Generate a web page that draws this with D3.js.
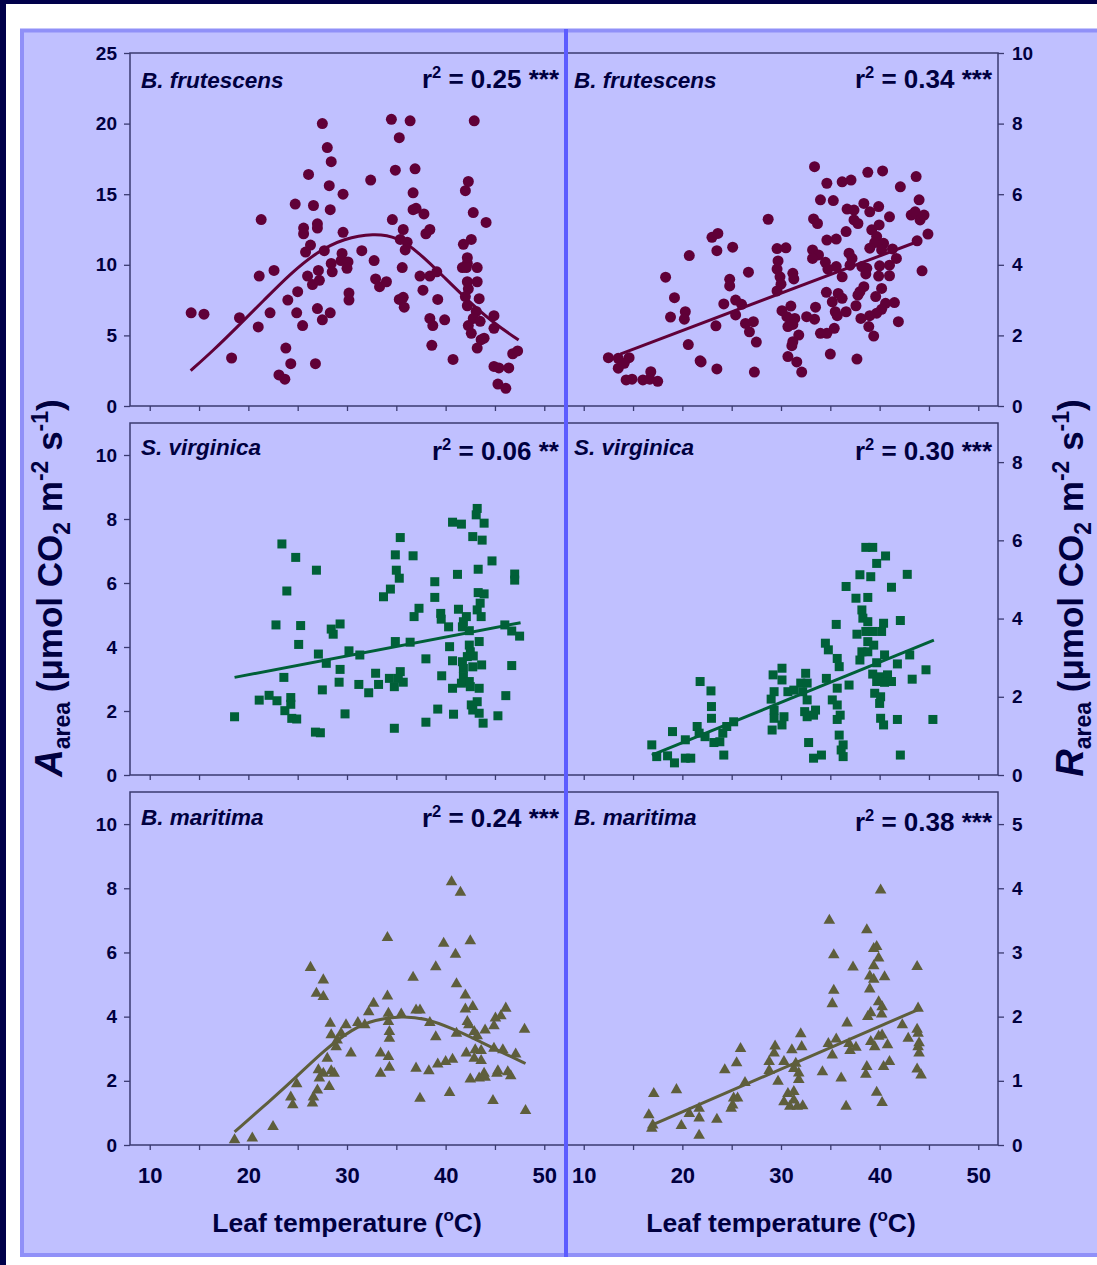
<!DOCTYPE html>
<html>
<head>
<meta charset="utf-8">
<script src="https://cdn.jsdelivr.net/npm/d3@7/dist/d3.min.js"></script>
<style>
body { margin: 0; background: #fff; }
text { font-family: Arial, "Liberation Sans", sans-serif; font-weight: bold; fill: #000040; }
</style>
</head>
<body>
<script>
// leaf temperature (C) vs rate, one array per species and flux
var bfrutA = [[14.2,6.6],[15.5,6.5],[18.3,3.4],[19.1,6.25],[21.0,5.6],[21.3,13.2],[21.1,9.2],[22.6,9.6],[22.2,6.6],[23.8,4.1],[24.3,3.0],[23.1,2.2],[23.7,1.9],[24.0,7.5],[24.75,14.3],[25.0,8.1],[24.9,6.6],[25.5,5.7],[25.6,12.6],[25.6,12.2],[26.1,16.4],[26.3,11.4],[25.8,10.9],[26.0,9.2],[26.5,8.6],[26.6,14.2],[27.0,12.9],[27.0,12.6],[27.1,9.6],[27.2,8.9],[27.0,6.9],[27.5,6.1],[26.8,3.0],[27.5,20.0],[28.0,18.3],[28.4,17.3],[28.2,15.6],[28.3,13.9],[29.6,15.0],[27.7,11.0],[28.4,10.1],[28.5,9.5],[28.3,6.6],[29.6,12.3],[29.5,10.8],[29.4,10.3],[30.1,10.2],[30.0,9.75],[30.2,8.0],[30.2,7.5],[31.5,11.0],[32.4,16.0],[32.75,10.3],[32.9,9.0],[33.3,8.45],[34.0,8.8],[34.5,20.3],[35.3,19.0],[36.4,20.2],[34.9,16.7],[36.9,16.8],[34.6,13.2],[36.7,15.1],[36.7,13.9],[37.0,14.0],[37.8,13.6],[35.7,12.5],[35.4,11.8],[36.1,11.6],[35.9,11.05],[35.6,9.8],[35.3,7.55],[35.7,7.7],[35.8,7.0],[37.4,9.2],[37.7,8.2],[38.4,9.2],[39.1,9.5],[38.0,12.2],[38.4,12.5],[39.2,7.55],[38.4,6.2],[38.7,5.7],[39.9,6.1],[38.6,4.3],[40.75,3.3],[42.9,20.2],[42.3,15.9],[42.0,15.25],[42.8,13.7],[44.1,13.0],[42.6,11.8],[41.8,11.45],[42.2,10.5],[42.2,10.1],[41.7,9.8],[42.1,9.8],[43.2,9.8],[42.2,8.8],[43.2,8.8],[42.3,8.3],[42.0,7.75],[43.4,7.6],[42.2,7.1],[43.1,6.7],[42.8,6.2],[43.5,6.0],[42.3,5.7],[42.6,5.15],[43.9,4.8],[43.6,4.7],[43.2,4.1],[44.9,6.4],[44.9,5.5],[44.9,2.8],[45.4,2.7],[46.4,2.7],[45.3,1.55],[46.1,1.25],[46.8,3.7],[47.3,3.9]];

var bfrutR = [[12.5,1.37],[13.5,1.35],[14.6,1.37],[13.5,1.07],[14.1,1.21],[14.3,0.74],[14.9,0.76],[16.0,0.74],[16.8,0.97],[16.7,0.76],[17.5,0.70],[18.3,3.65],[19.2,3.07],[18.8,2.52],[20.3,2.67],[20.2,2.46],[20.6,1.74],[20.7,4.26],[21.8,1.28],[21.9,1.25],[23.0,4.78],[23.6,4.89],[23.5,4.4],[23.4,2.27],[23.5,1.05],[24.2,2.89],[25.1,4.5],[24.8,3.59],[24.8,3.4],[25.4,3.0],[26.0,2.88],[25.4,2.58],[26.4,2.34],[27.2,2.39],[26.8,2.1],[27.5,1.81],[26.7,3.79],[27.3,0.96],[28.7,5.29],[29.6,4.46],[30.5,4.48],[29.7,4.11],[29.6,3.88],[29.9,3.66],[31.2,3.76],[31.3,3.6],[30.0,3.45],[29.6,3.26],[30.1,2.7],[31.0,2.83],[30.6,2.53],[31.4,2.48],[31.2,2.31],[30.7,2.25],[31.8,2.01],[31.2,1.82],[31.1,1.71],[30.7,1.4],[31.6,1.25],[32.1,0.96],[32.6,2.53],[33.4,2.46],[33.5,2.8],[33.4,6.78],[33.3,5.3],[33.7,5.17],[34.0,5.84],[34.65,6.31],[35.3,5.82],[33.2,4.42],[33.8,4.28],[33.2,4.18],[34.65,4.7],[35.6,4.73],[34.5,4.07],[34.75,3.88],[35.6,3.95],[36.2,3.66],[34.6,3.22],[35.2,2.95],[35.8,3.19],[36.2,3.05],[35.5,2.67],[35.7,2.56],[36.6,2.67],[35.4,2.2],[34.65,2.06],[34.0,2.06],[35.0,1.47],[36.2,6.35],[37.1,6.4],[36.6,4.94],[36.7,5.58],[37.4,5.55],[37.4,5.27],[37.8,5.17],[36.9,4.33],[37.2,4.18],[37.0,3.99],[38.4,5.74],[39.0,5.5],[39.9,5.65],[38.8,6.62],[40.3,6.66],[39.2,4.99],[39.95,5.13],[39.7,4.8],[39.5,4.63],[40.4,4.61],[39.0,4.47],[40.2,4.42],[41.3,4.45],[41.0,5.36],[42.1,6.21],[43.7,6.5],[44.0,5.84],[43.2,5.41],[43.6,5.5],[44.1,5.27],[44.5,5.41],[44.9,4.87],[43.8,4.68],[41.7,4.18],[41.0,3.99],[41.0,3.69],[40.0,3.97],[39.9,3.68],[38.7,3.9],[38.2,3.95],[38.6,3.74],[44.3,3.83],[40.2,3.33],[38.4,3.38],[38.0,3.24],[37.8,3.14],[39.6,3.1],[40.6,2.91],[37.6,2.84],[41.5,2.93],[40.2,2.74],[39.7,2.63],[39.0,2.56],[38.1,2.48],[38.9,2.25],[39.4,1.98],[41.9,2.39],[37.7,1.33]];

var svirgA = [[18.6,1.82],[23.4,7.22],[24.8,6.8],[26.9,6.4],[23.9,5.75],[22.8,4.69],[25.3,4.67],[25.1,4.08],[23.6,3.05],[22.1,2.49],[21.1,2.34],[22.9,2.32],[24.3,2.42],[24.3,2.21],[23.7,2.01],[24.4,1.77],[24.9,1.75],[26.8,1.34],[27.3,1.32],[27.1,3.78],[27.9,3.49],[27.5,2.66],[28.4,4.56],[28.6,4.4],[29.3,4.72],[29.3,3.3],[29.2,2.9],[30.2,3.88],[31.3,3.75],[31.2,2.83],[32.2,2.57],[29.8,1.91],[32.9,3.18],[33.2,2.83],[34.8,1.46],[33.7,5.57],[34.4,5.81],[35.0,6.4],[35.3,6.15],[34.9,6.88],[35.4,7.42],[36.7,6.85],[34.9,4.17],[36.4,4.15],[34.3,3.02],[34.8,2.76],[35.4,3.23],[35.7,2.9],[35.2,3.02],[36.8,4.95],[37.3,5.21],[38.9,6.04],[38.9,5.55],[38.0,3.63],[39.2,2.06],[38.0,1.65],[39.5,5.05],[40.3,4.63],[40.4,4.01],[39.6,3.1],[40.7,3.57],[40.7,2.71],[40.8,1.9],[41.2,6.27],[40.7,7.9],[41.6,7.84],[43.2,8.33],[43.1,8.13],[43.9,7.87],[42.75,7.45],[43.7,7.34],[44.7,6.69],[43.3,6.43],[41.3,5.18],[42.1,4.95],[43.2,5.16],[43.6,4.95],[43.3,5.7],[43.9,5.66],[43.5,5.37],[41.7,4.63],[42.4,4.51],[43.4,4.17],[42.4,4.06],[42.5,3.85],[42.2,3.7],[42.8,3.72],[41.7,3.54],[41.8,3.33],[42.75,3.38],[43.65,3.44],[41.8,3.07],[42.4,2.92],[41.6,2.87],[42.5,2.76],[43.4,2.71],[42.6,2.19],[43.2,2.29],[42.75,2.03],[43.4,1.93],[43.8,1.62],[45.3,1.85],[46.1,2.48],[46.7,3.42],[46.0,4.69],[46.7,4.5],[47.5,4.34],[47.0,6.28],[47.0,6.09],[39.55,4.87],[41.8,4.79]];

var svirgR = [[16.9,0.77],[17.4,0.47],[18.5,0.49],[19.2,0.31],[20.3,0.43],[20.85,0.43],[19.0,1.11],[20.3,0.9],[21.5,1.24],[21.7,1.07],[22.3,0.98],[23.2,0.83],[23.8,0.85],[21.8,2.39],[22.9,2.15],[22.95,1.75],[22.95,1.45],[24.1,1.07],[24.5,1.24],[25.2,1.36],[24.2,0.51],[29.2,2.56],[30.1,2.73],[30.1,2.43],[29.3,2.13],[29.0,1.94],[29.3,1.66],[29.3,1.45],[29.1,1.15],[30.3,1.49],[30.1,1.28],[30.7,2.13],[31.3,2.17],[32.0,2.35],[32.5,2.6],[32.65,2.35],[32.2,2.13],[32.65,1.92],[32.4,1.62],[32.65,1.49],[33.5,1.66],[33.3,1.53],[32.8,0.83],[33.3,0.43],[34.1,0.51],[34.5,3.37],[34.8,3.2],[34.6,2.47],[35.6,3.85],[35.7,2.98],[35.9,2.77],[35.7,2.22],[35.2,1.92],[35.7,1.79],[36.0,1.53],[35.7,1.42],[35.9,1.02],[36.3,0.77],[36.1,0.64],[36.3,0.47],[36.9,2.3],[36.6,4.82],[37.6,4.52],[38.0,5.12],[39.1,5.07],[38.8,4.54],[38.6,5.82],[39.3,5.82],[40.6,5.6],[39.7,5.41],[41.2,4.8],[42.8,5.13],[38.2,4.22],[38.3,4.01],[38.8,3.92],[37.7,3.6],[38.6,3.67],[39.3,3.67],[40.4,3.88],[40.2,3.67],[42.1,3.95],[38.8,3.41],[39.4,3.32],[38.2,3.15],[38.8,3.15],[38.0,2.94],[39.7,2.87],[40.5,3.07],[41.8,2.84],[43.05,3.07],[39.3,2.58],[40.0,2.51],[40.8,2.56],[39.7,2.39],[40.5,2.37],[41.2,2.39],[39.5,2.09],[40.1,2.0],[40.0,1.83],[43.3,2.45],[44.7,2.69],[40.1,1.45],[40.4,1.28],[41.8,1.42],[45.4,1.42],[42.1,0.51]];

var bmarA = [[18.6,0.16],[20.4,0.21],[22.5,0.57],[26.3,5.53],[27.6,5.14],[26.9,4.72],[27.6,4.62],[24.3,1.49],[24.5,1.25],[24.9,1.9],[26.5,1.3],[26.6,1.49],[27.0,1.71],[28.2,1.82],[27.2,2.08],[27.6,2.23],[27.1,2.34],[28.4,2.31],[28.7,2.23],[28.0,2.7],[28.9,3.06],[29.0,3.27],[28.4,3.43],[28.3,3.79],[29.4,3.48],[29.9,3.74],[30.4,2.86],[31.1,3.81],[31.8,3.74],[32.2,4.15],[32.7,4.41],[33.4,2.86],[33.4,2.23],[34.1,6.46],[34.1,4.64],[34.2,4.1],[34.2,3.84],[34.3,3.53],[34.3,3.32],[34.2,2.75],[34.3,2.42],[35.5,4.08],[36.7,5.22],[37.0,4.2],[37.4,4.2],[37.0,2.39],[37.4,1.45],[38.4,3.81],[38.3,2.31],[39.0,5.55],[39.0,3.37],[39.2,2.52],[40.0,2.6],[40.7,2.67],[39.8,6.28],[40.6,8.2],[41.5,7.87],[41.0,5.94],[42.5,6.36],[41.1,5.02],[42.0,4.67],[42.0,4.23],[42.75,4.31],[42.2,3.84],[42.35,3.74],[41.1,3.48],[42.9,3.53],[42.1,2.86],[43.0,2.96],[42.9,2.7],[43.6,2.94],[43.6,2.63],[44.0,3.58],[44.9,3.71],[45.05,3.95],[45.6,4.02],[46.1,4.26],[42.5,2.05],[43.4,2.08],[43.9,2.23],[44.0,2.11],[45.3,2.31],[45.2,2.23],[46.3,2.28],[46.6,2.15],[44.9,3.01],[45.8,2.96],[47.1,2.83],[48.0,3.6],[44.8,1.38],[48.1,1.07],[40.4,1.63],[43.2,3.4]];

var bmarR = [[16.6,0.47],[16.9,0.26],[17.0,0.31],[17.1,0.8],[19.4,0.86],[19.9,0.3],[20.7,0.49],[21.7,0.57],[21.7,0.42],[21.7,0.15],[23.5,0.4],[24.3,1.17],[24.95,0.57],[25.1,0.62],[25.2,0.73],[25.6,0.73],[25.5,1.28],[25.9,1.5],[26.35,0.97],[28.8,1.3],[28.8,1.16],[29.3,1.43],[29.4,1.54],[29.7,0.99],[30.3,1.3],[30.3,0.67],[30.7,0.8],[30.9,0.6],[31.3,0.83],[31.3,0.7],[31.3,1.19],[31.1,1.48],[31.5,1.27],[31.8,1.12],[31.8,1.02],[32.0,1.73],[32.1,1.53],[31.65,0.6],[32.2,0.61],[34.2,1.14],[34.8,1.58],[35.2,1.4],[35.6,1.65],[34.9,3.5],[35.35,2.96],[35.35,2.41],[35.2,2.2],[36.1,1.04],[36.6,0.6],[36.7,1.9],[36.9,1.58],[37.0,1.47],[37.6,1.52],[37.3,2.77],[38.7,3.35],[39.4,3.06],[39.7,3.09],[39.9,2.91],[39.4,2.79],[39.0,2.63],[39.4,2.58],[40.5,2.62],[39.0,2.43],[39.9,2.23],[40.25,2.15],[39.1,2.06],[40.2,2.04],[38.8,2.0],[39.9,1.69],[40.25,1.71],[39.1,1.61],[39.5,1.53],[40.8,1.56],[38.7,1.22],[38.6,1.1],[41.0,1.3],[40.4,1.22],[39.7,0.82],[40.25,0.66],[42.3,1.87],[42.9,1.66],[43.8,2.78],[43.9,2.13],[43.8,1.8],[43.9,1.74],[44.0,1.59],[43.9,1.53],[44.0,1.43],[43.8,1.18],[44.2,1.09],[40.1,3.97]];

// fitted curves
var bfrutAFit = [[14.15,2.5],[16.5,3.97],[18.9,5.62],[21.6,7.5],[24.3,9.4],[27.0,10.93],[29.7,11.87],[32.7,12.23],[35.1,11.99],[37.4,10.8],[39.8,9.16],[42.2,7.5],[44.9,5.86],[47.4,4.67]];
var bfrutRFit = [[13.7,1.47],[43.4,4.61]];
var svirgAFit = [[18.6,3.05],[47.6,4.76]];
var svirgRFit = [[16.9,0.51],[45.5,3.45]];
var bmarAFit = [[18.6,0.41],[22.1,1.35],[24.9,2.13],[27.7,2.96],[30.6,3.63],[32.8,3.91],[35.6,4.02],[37.9,3.95],[40.7,3.63],[43.5,3.22],[46.3,2.8],[48.1,2.54]];
var bmarRFit = [[16.9,0.31],[44.2,2.13]];

var species = ["B. frutescens", "S. virginica", "B. maritima"];
var r2Left = ["0.25", "0.06", "0.24"], starsLeft = ["***", "**", "***"];
var r2Right = ["0.34", "0.30", "0.38"], starsRight = ["***", "***", "***"];
var leftMax = [25, 11, 11], rightMax = [10, 9, 5.5];
var leftTicks = [[0,5,10,15,20,25],[0,2,4,6,8,10],[0,2,4,6,8,10]];
var rightTicks = [[0,2,4,6,8,10],[0,2,4,6,8],[0,1,2,3,4,5]];
var tempTicks = [10,15,20,25,30,35,40,45,50];
var tempDomain = [8, 52];

var width = 1097, height = 1265,
    ink = "#000040", axisCol = "#3a3a70",
    font = "Arial, 'Liberation Sans', sans-serif";

var rows = [
  {left: bfrutA, right: bfrutR, fitL: bfrutAFit, fitR: bfrutRFit, col: "#600038", mark: "circle"},
  {left: svirgA, right: svirgR, fitL: svirgAFit, fitR: svirgRFit, col: "#006038", mark: "square"},
  {left: bmarA, right: bmarR, fitL: bmarAFit, fitR: bmarRFit, col: "#5e5e3c", mark: "triangle"}
];
var tops = [53, 423, 792], bottoms = [406, 775, 1145],
    nameDy = [35, 32, 33], r2Dy = [35, 37, 35];

var svg = d3.select("body").append("svg")
    .attr("width", width)
    .attr("height", height);

// slide background
svg.append("rect").attr("width", width).attr("height", height).attr("fill", "#fff");
svg.append("rect").attr("width", width).attr("height", 4).attr("fill", "#00004a");
svg.append("rect").attr("width", 6).attr("height", height).attr("fill", "#00004a");
svg.append("rect")
    .attr("x", 22).attr("y", 30.5)
    .attr("width", 1100).attr("height", 1224.5)
    .attr("fill", "#c0c0ff")
    .attr("stroke", "#9090f8")
    .attr("stroke-width", 4);

var xL = d3.scaleLinear().domain(tempDomain).range([130, 564]),
    xR = d3.scaleLinear().domain(tempDomain).range([564, 998]);

rows.forEach(function(row, i) {
  var yL = d3.scaleLinear().domain([0, leftMax[i]]).range([bottoms[i], tops[i]]),
      yR = d3.scaleLinear().domain([0, rightMax[i]]).range([bottoms[i], tops[i]]);
  var g = svg.append("g");

  g.append("rect")
      .attr("x", 130).attr("y", tops[i])
      .attr("width", 868).attr("height", bottoms[i] - tops[i])
      .attr("fill", "none")
      .attr("stroke", axisCol)
      .attr("stroke-width", 1.5);

  // axes
  var ax = g.append("g").attr("transform", "translate(130,0)")
      .call(d3.axisLeft(yL).tickValues(leftTicks[i]).tickSize(6).tickSizeOuter(0)
        .tickPadding(7).tickFormat(d3.format("d")));
  var ax2 = g.append("g").attr("transform", "translate(998,0)")
      .call(d3.axisRight(yR).tickValues(rightTicks[i]).tickSize(6).tickSizeOuter(0)
        .tickPadding(8).tickFormat(d3.format("d")));
  [ax, ax2].forEach(function(a) {
    a.select(".domain").remove();
    a.selectAll("line").attr("stroke", axisCol).attr("stroke-width", 1.3);
    a.selectAll("text").attr("font-size", 19).attr("fill", ink).attr("font-family", font);
  });

  [xL, xR].forEach(function(x) {
    var xa = g.append("g").attr("transform", "translate(0," + bottoms[i] + ")")
        .call(d3.axisBottom(x).tickValues(tempTicks).tickSize(5).tickSizeOuter(0)
          .tickFormat(function(d) { return i === 2 && d % 10 === 0 ? d : ""; }));
    xa.select(".domain").remove();
    xa.selectAll("line").attr("stroke", axisCol).attr("stroke-width", 1.3);
    xa.selectAll("text").attr("font-size", 22).attr("fill", ink).attr("font-family", font)
        .attr("y", 22).attr("dy", "0.71em");
  });

  // points and fits for both halves
  [[row.left, row.fitL, xL, yL], [row.right, row.fitR, xR, yR]].forEach(function(s) {
    var data = s[0], x = s[2], y = s[3];
    var pts = g.append("g").attr("fill", row.col);
    if (row.mark === "circle") {
      pts.selectAll("circle").data(data).enter().append("circle")
          .attr("cx", function(d) { return x(d[0]); })
          .attr("cy", function(d) { return y(d[1]); })
          .attr("r", 5.5);
    } else if (row.mark === "square") {
      pts.selectAll("rect").data(data).enter().append("rect")
          .attr("x", function(d) { return x(d[0]) - 4.5; })
          .attr("y", function(d) { return y(d[1]) - 4.5; })
          .attr("width", 9).attr("height", 9);
    } else {
      pts.selectAll("path").data(data).enter().append("path")
          .attr("d", d3.symbol(d3.symbolTriangle, 58))
          .attr("transform", function(d) { return "translate(" + [x(d[0]), y(d[1])] + ")"; });
    }
    g.append("path")
        .datum(s[1])
        .attr("fill", "none")
        .attr("stroke", row.col)
        .attr("stroke-width", 3)
        .attr("d", d3.line()
          .x(function(d) { return x(d[0]); })
          .y(function(d) { return y(d[1]); })
          .curve(s[1].length > 2 ? d3.curveBasis : d3.curveLinear));
  });

  // labels
  [141, 574].forEach(function(lx) {
    g.append("text").attr("x", lx).attr("y", tops[i] + nameDy[i])
        .attr("font-size", 22.5).attr("font-style", "italic").text(species[i]);
  });

  [[559, r2Left[i], starsLeft[i]], [992, r2Right[i], starsRight[i]]].forEach(function(r, k) {
    var t = g.append("text").attr("x", r[0]).attr("y", tops[i] + r2Dy[i] + (i === 2 && k === 1 ? 4 : 0))
        .attr("font-size", 26).attr("text-anchor", "end");
    t.append("tspan").text("r");
    t.append("tspan").attr("font-size", 16.5).attr("dy", -10.5).text("2");
    t.append("tspan").attr("dy", 10.5).text(" = " + r[1] + " " + r[2]);
  });
});

// divider between the two columns
svg.append("line")
    .attr("x1", 566).attr("x2", 566)
    .attr("y1", 29).attr("y2", 1257)
    .attr("stroke", "#5c5cff")
    .attr("stroke-width", 4);

// axis titles
[347, 781].forEach(function(cx) {
  var t = svg.append("text").attr("x", cx).attr("y", 1232)
      .attr("font-size", 26.5).attr("text-anchor", "middle");
  t.append("tspan").text("Leaf temperature (");
  t.append("tspan").attr("font-size", 17).attr("dy", -11).text("o");
  t.append("tspan").attr("dy", 11).text("C)");
});

function yTitle(x, letter) {
  var t = svg.append("text")
      .attr("transform", "translate(" + x + ",588) rotate(-90)")
      .attr("font-size", 35).attr("text-anchor", "middle");
  t.append("tspan").attr("font-style", "italic").attr("font-size", 38).text(letter);
  t.append("tspan").attr("font-size", 23).attr("dy", 8).text("area");
  t.append("tspan").attr("dy", -8).text(" (\u03bcmol CO");
  t.append("tspan").attr("font-size", 23).attr("dy", 8).text("2");
  t.append("tspan").attr("dy", -8).text(" m");
  t.append("tspan").attr("font-size", 23).attr("dy", -14).text("-2");
  t.append("tspan").attr("dy", 14).text(" s");
  t.append("tspan").attr("font-size", 23).attr("dy", -14).text("-1");
  t.append("tspan").attr("dy", 14).text(")");
}
yTitle(62, "A");
yTitle(1083, "R");
</script>
</body>
</html>
